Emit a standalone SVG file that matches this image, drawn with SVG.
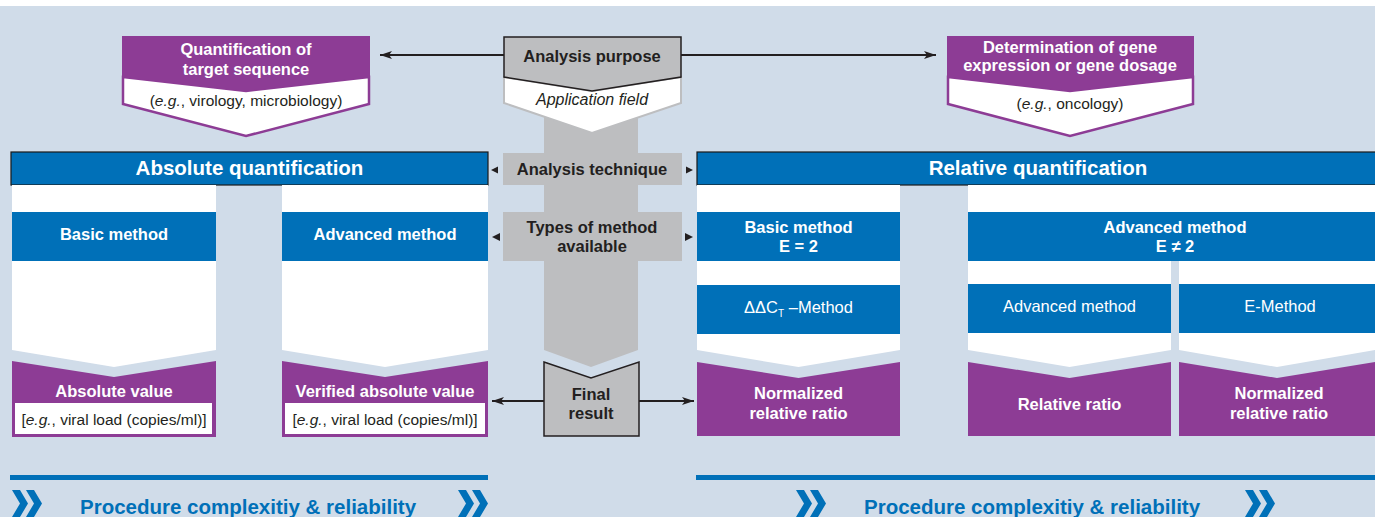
<svg xmlns="http://www.w3.org/2000/svg" width="1375" height="517" viewBox="0 0 1375 517">
<defs>
<style>
.bg{fill:#D0DCE9}
.blue{fill:#0070B8}
.pur{fill:#8D3C95}
.grey{fill:#BDBEC0}
.wh{fill:#FFFFFF}
.t{font-family:"Liberation Sans",Arial,sans-serif;text-anchor:middle}
.bw{font-weight:bold;fill:#FFFFFF;font-size:16.5px}
.rw{fill:#FFFFFF;font-size:16.5px}
.bd{font-weight:bold;fill:#231F20;font-size:16.5px}
.rd{fill:#231F20;font-size:15.5px}
.hd{font-weight:bold;fill:#FFFFFF;font-size:20.5px}
.pr{font-weight:bold;fill:#0070B8;font-size:20.5px;text-anchor:start}
.ln{stroke:#231F20;stroke-width:1.8;fill:none}
</style>
<marker id="ah" markerUnits="userSpaceOnUse" markerWidth="14" markerHeight="10" refX="12" refY="4" orient="auto">
<path d="M0,0 L12,4 L0,8 L3,4 z" fill="#231F20"/>
</marker>
<polygon id="chev" points="0,0 8,0 16,13.5 8,27 0,27 8,13.5" fill="#0070B8"/>
</defs>

<rect x="0" y="0" width="1375" height="517" fill="#FFFFFF"/>
<rect class="bg" x="0" y="6" width="1375" height="511"/>

<!-- central column -->
<g id="center-stem">
<polygon class="grey" points="544,108 638,108 638,350 591,367 544,350"/>
</g>

<g id="analysis-purpose">
<polygon class="wh" points="504,77 592,91 681,77 681,103 592,133 504,103" stroke="#BDBEC0" stroke-width="2"/>
<polygon class="grey" points="504,37 681,37 681,77 592,91 504,77" stroke="#231F20" stroke-width="1.5"/>
<text class="t bd" x="592" y="62">Analysis purpose</text>
<text class="t" x="592" y="105" font-style="italic" font-size="16px" fill="#231F20">Application field</text>
</g>

<g id="quant-target">
<polygon class="wh" points="123,77 246,91 369,77 369,104 246,136 123,104" stroke="#8D3C95" stroke-width="2.5"/>
<polygon class="pur" points="122,36 370,36 370,77 246,91 122,77"/>
<text class="t bw" x="246" y="55">Quantification of</text>
<text class="t bw" x="246" y="75">target sequence</text>
<text class="t rd" x="246" y="106">(<tspan font-style="italic">e.g.</tspan>, virology, microbiology)</text>
</g>

<g id="gene-expression">
<polygon class="wh" points="948,77 1070,91 1193,77 1193,104 1070,136 948,104" stroke="#8D3C95" stroke-width="2.5"/>
<polygon class="pur" points="947,36 1194,36 1194,77 1070,91 947,77"/>
<text class="t bw" x="1070" y="53" font-size="16px">Determination of gene</text>
<text class="t bw" x="1070" y="71" font-size="16px">expression or gene dosage</text>
<text class="t rd" x="1070" y="109">(<tspan font-style="italic">e.g.</tspan>, oncology)</text>
</g>

<g id="absolute-header">
<rect class="blue" x="11" y="152" width="477" height="33" stroke="#1A1A1A" stroke-width="1.2"/>
<text class="t hd" x="249.5" y="175">Absolute quantification</text>
</g>

<g id="relative-header">
<rect class="blue" x="697" y="152" width="679" height="33" stroke="#1A1A1A" stroke-width="1.2"/>
<text class="t hd" x="1038" y="175">Relative quantification</text>
</g>

<g id="analysis-technique">
<rect class="grey" x="503" y="153" width="179" height="32"/>
<text class="t bd" x="592" y="175">Analysis technique</text>
</g>

<g id="types-of-method">
<rect class="grey" x="503" y="212" width="179" height="49"/>
<text class="t bd" x="592" y="233">Types of method</text>
<text class="t bd" x="592" y="252">available</text>
</g>

<!-- left panel columns -->
<g id="abs-basic">
<polygon class="wh" points="12,185 216,185 216,350 114,367 12,350"/>
<rect class="blue" x="12" y="212" width="204" height="49"/>
<text class="t bw" x="114" y="240">Basic method</text>
</g>

<g id="abs-advanced">
<polygon class="wh" points="282,185 488,185 488,350 385,367 282,350"/>
<rect class="blue" x="282" y="212" width="206" height="49"/>
<text class="t bw" x="385" y="240">Advanced method</text>
</g>

<g id="abs-value">
<polygon class="pur" points="12,361 114,377 216,361 216,437 12,437"/>
<text class="t bw" x="114" y="397">Absolute value</text>
<rect class="wh" x="15" y="403" width="197" height="31"/>
<text class="t rd" x="114" y="425" font-size="16px">[<tspan font-style="italic">e.g.</tspan>, viral load (copies/ml)]</text>
</g>

<g id="verified-abs-value">
<polygon class="pur" points="282,361 385,377 488,361 488,437 282,437"/>
<text class="t bw" x="385" y="397">Verified absolute value</text>
<rect class="wh" x="285" y="403" width="200" height="31"/>
<text class="t rd" x="385" y="425" font-size="16px">[<tspan font-style="italic">e.g.</tspan>, viral load (copies/ml)]</text>
</g>

<!-- right panel columns -->
<g id="rel-basic">
<polygon class="wh" points="697,185 900,185 900,350 798.5,367 697,350"/>
<rect class="blue" x="697" y="212" width="203" height="49"/>
<text class="t bw" x="798.5" y="233">Basic method</text>
<text class="t bw" x="798.5" y="252">E = 2</text>
</g>

<g id="ddct-method">
<rect class="blue" x="697" y="285" width="203" height="49"/>
<text class="t rw" x="798.5" y="313">ΔΔC<tspan font-size="10px" dy="4">T</tspan><tspan dy="-4"> –Method</tspan></text>
</g>

<g id="rel-advanced">
<rect class="wh" x="968" y="185" width="407" height="76"/>
<polygon class="wh" points="968,261 1171,261 1171,350 1069.5,367 968,350"/>
<polygon class="wh" points="1179,261 1375,261 1375,350 1277,367 1179,350"/>
<rect class="blue" x="968" y="212" width="407" height="49"/>
<text class="t bw" x="1175" y="233">Advanced method</text>
<text class="t bw" x="1175" y="252">E ≠ 2</text>
</g>

<g id="advanced-method-sub">
<rect class="blue" x="968" y="284" width="203" height="49"/>
<text class="t rw" x="1069.5" y="312">Advanced method</text>
</g>

<g id="e-method">
<rect class="blue" x="1179" y="284" width="196" height="49"/>
<text class="t rw" x="1280" y="312">E-Method</text>
</g>

<g id="final-result">
<polygon class="grey" points="544,362 591,378 639,362 639,436 544,436" stroke="#231F20" stroke-width="1.5"/>
<text class="t bd" x="591" y="400">Final</text>
<text class="t bd" x="591" y="419">result</text>
</g>

<g id="normalized-ratio-basic">
<polygon class="pur" points="697,362 798.5,378 900,362 900,436 697,436"/>
<text class="t bw" x="798.5" y="399">Normalized</text>
<text class="t bw" x="798.5" y="419">relative ratio</text>
</g>

<g id="relative-ratio">
<polygon class="pur" points="968,362 1069.5,378 1171,362 1171,436 968,436"/>
<text class="t bw" x="1069.5" y="410">Relative ratio</text>
</g>

<g id="normalized-ratio-adv">
<polygon class="pur" points="1179,362 1277,378 1375,362 1375,436 1179,436"/>
<text class="t bw" x="1279" y="399">Normalized</text>
<text class="t bw" x="1279" y="419">relative ratio</text>
</g>

<!-- connectors -->
<g id="connectors">
<line class="ln" x1="504" y1="55" x2="380" y2="55" marker-end="url(#ah)"/>
<line class="ln" x1="681" y1="55" x2="936" y2="55" marker-end="url(#ah)"/>
<line class="ln" x1="544" y1="401" x2="492" y2="401" marker-end="url(#ah)"/>
<line class="ln" x1="639" y1="401" x2="694" y2="401" marker-end="url(#ah)"/>
<polygon points="491,170 498,166.5 498,173.5" fill="#231F20"/>
<polygon points="693,170 686,166.5 686,173.5" fill="#231F20"/>
<polygon points="492,237 500,233 500,241" fill="#231F20"/>
<polygon points="693,237 685,233 685,241" fill="#231F20"/>
</g>

<!-- bottom complexity bars -->
<g id="complexity-left">
<rect class="blue" x="10" y="475" width="478" height="5"/>
<use href="#chev" x="12" y="490"/>
<use href="#chev" x="26" y="490"/>
<text class="t pr" x="80" y="514">Procedure complexitiy &amp; reliability</text>
<use href="#chev" x="458" y="490"/>
<use href="#chev" x="472" y="490"/>
</g>

<g id="complexity-right">
<rect class="blue" x="696" y="475" width="679" height="5"/>
<use href="#chev" x="796" y="490"/>
<use href="#chev" x="810" y="490"/>
<text class="t pr" x="864" y="514">Procedure complexitiy &amp; reliability</text>
<use href="#chev" x="1245" y="490"/>
<use href="#chev" x="1259" y="490"/>
</g>
</svg>
